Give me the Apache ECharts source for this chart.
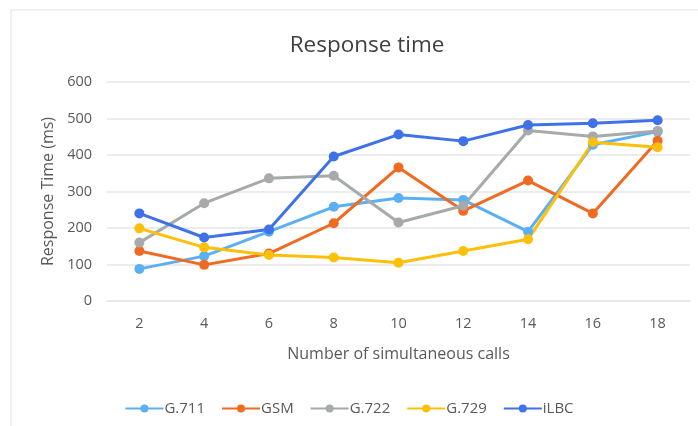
<!DOCTYPE html>
<html>
<head>
<meta charset="utf-8">
<script src="https://cdn.jsdelivr.net/npm/echarts@6/dist/echarts.min.js"></script>
<style>
  html, body { margin: 0; padding: 0; background: #fff; }
  #chart { width: 698px; height: 426px; }
</style>
</head>
<body>
<div id="chart"></div>
<script>
// Number of simultaneous calls
const calls = ['2', '4', '6', '8', '10', '12', '14', '16', '18'];

// Response time (ms) per codec
const g711 = [88, 123, 190, 258, 282, 277, 190, 428, 464];
const gsm  = [137, 99, 130, 213, 366, 247, 330, 240, 439];
const g722 = [160, 268, 336, 343, 215, 261, 467, 451, 466];
const g729 = [199, 147, 126, 119, 105, 137, 169, 435, 421];
const ilbc = [240, 174, 196, 396, 456, 438, 482, 487, 495];

const yTicks = [0, 100, 200, 300, 400, 500, 600];

const codecs = [
  { name: 'G.711', data: g711, color: '#5cb0f2' },
  { name: 'GSM',   data: gsm,  color: '#f06a22' },
  { name: 'G.722', data: g722, color: '#a6aaaa' },
  { name: 'G.729', data: g729, color: '#fcbf0a' },
  { name: 'iLBC',  data: ilbc, color: '#3f72e8' }
];

const font = '"Open Sans", "Liberation Sans", sans-serif';
const chart = echarts.init(document.getElementById('chart'), null, { renderer: 'canvas' });

chart.setOption({
  backgroundColor: '#fff',
  animation: false,
  graphic: [{
    type: 'rect',
    shape: { x: 11, y: 10, width: 700, height: 430 },
    style: { fill: 'none', stroke: '#ececec', lineWidth: 1.5 },
    silent: true,
    z: -1
  }],
  title: {
    text: 'Response time',
    left: 362,
    top: 29,
    textAlign: 'center',
    textStyle: { fontFamily: font, fontSize: 22.5, fontWeight: 'normal', color: '#404040' }
  },
  legend: {
    left: 'center',
    top: 396,
    itemWidth: 38,
    itemHeight: 10,
    itemGap: 16,
    textStyle: { fontFamily: font, fontSize: 15, color: '#595959', padding: [0, 0, 0, -4] },
    data: codecs.map(c => c.name)
  },
  grid: { left: 107, right: 8, top: 82, bottom: 125 },
  xAxis: {
    type: 'category',
    data: calls,
    boundaryGap: true,
    name: 'Number of simultaneous calls',
    nameLocation: 'middle',
    nameGap: 45,
    nameTextStyle: { fontFamily: font, fontSize: 16, color: '#595959' },
    axisLine: { show: true, lineStyle: { color: '#e6e6e6', width: 1.5 } },
    axisTick: { show: false },
    axisLabel: { fontFamily: font, fontSize: 14.5, color: '#595959', margin: 15 }
  },
  yAxis: {
    type: 'value',
    min: yTicks[0],
    max: yTicks[yTicks.length - 1],
    interval: 100,
    name: 'Response Time (ms)',
    nameLocation: 'middle',
    nameRotate: 90,
    nameGap: 50,
    nameTextStyle: { fontFamily: font, fontSize: 16, color: '#595959' },
    axisLine: { show: false },
    axisTick: { show: false },
    axisLabel: { fontFamily: font, fontSize: 14.5, color: '#595959', margin: 15 },
    splitLine: { lineStyle: { color: '#e6e6e6', width: 1.5 } }
  },
  series: codecs.map(c => ({
    name: c.name,
    type: 'line',
    data: c.data,
    symbol: 'circle',
    symbolSize: 10,
    showAllSymbol: true,
    color: c.color,
    lineStyle: { width: 3, color: c.color },
    itemStyle: { color: c.color }
  }))
});
</script>
</body>
</html>
